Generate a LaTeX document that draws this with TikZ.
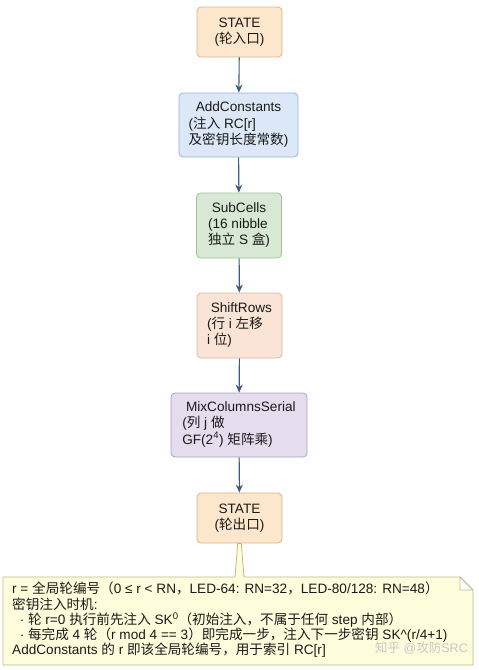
\documentclass[tikz,border=0pt]{standalone}
\usepackage{fontspec}
\setmainfont{Liberation Sans}
\newfontfamily\cjk{Noto Sans CJK SC}
\newcommand\zh[1]{{\cjk #1}}
\usetikzlibrary{arrows.meta}
\definecolor{stFill}{HTML}{FCE6CC}\definecolor{stDraw}{HTML}{D8B58E}
\definecolor{acFill}{HTML}{DCE8F8}\definecolor{acDraw}{HTML}{9DB3CF}
\definecolor{scFill}{HTML}{D7E9D4}\definecolor{scDraw}{HTML}{A3C29A}
\definecolor{srFill}{HTML}{FAE4D6}\definecolor{srDraw}{HTML}{D6B9A8}
\definecolor{mcFill}{HTML}{E5DCEE}\definecolor{mcDraw}{HTML}{ADA0BC}
\definecolor{arrCol}{HTML}{3E5C7E}
\definecolor{noteFill}{HTML}{FDFDDC}\definecolor{noteDraw}{HTML}{BDB98F}
\definecolor{txt}{HTML}{1A1A1A}
\newcommand\lbl[2]{\begin{tabular}{@{}l@{}}\multicolumn{1}{@{}c@{}}{#1}\\#2\end{tabular}}
\tikzset{
  stepbox/.style={rectangle, rounded corners=4pt, line width=0.8pt, text=txt,
    inner sep=0pt, font=\fontsize{13.6}{15.2}\selectfont},
  arr/.style={draw=arrCol, line width=1.1pt, -{Stealth[length=8pt,width=7pt,inset=2.5pt]}},
}
\begin{document}
\begin{tikzpicture}[x=1pt,y=-1pt]
\useasboundingbox (0,0) rectangle (479,670);
\node[stepbox, fill=stFill, draw=stDraw, minimum width=85pt, minimum height=50pt] (s0) at (239.5,32)
  {\lbl{STATE}{(\zh{轮入口})}};
\node[stepbox, fill=acFill, draw=acDraw, minimum width=119pt, minimum height=64pt] (ac) at (238.5,125)
  {\lbl{AddConstants}{(\zh{注入} RC[r]\\\zh{及密钥长度常数})}};
\node[stepbox, fill=scFill, draw=scDraw, minimum width=85pt, minimum height=65pt] (sc) at (239,225.5)
  {\lbl{SubCells}{(16 nibble\\\zh{独立} S \zh{盒})}};
\node[stepbox, fill=srFill, draw=srDraw, minimum width=85pt, minimum height=65pt] (sr) at (239.5,325.5)
  {\lbl{\ ShiftRows}{(\zh{行} i \zh{左移}\\i \zh{位})}};
\node[stepbox, fill=mcFill, draw=mcDraw, minimum width=136pt, minimum height=64pt] (mc) at (239,425)
  {\lbl{\ MixColumnsSerial}{(\zh{列} j \zh{做}\\GF(2\textsuperscript{4}) \zh{矩阵乘})}};
\node[stepbox, fill=stFill, draw=stDraw, minimum width=85pt, minimum height=50pt] (s1) at (239.5,518)
  {\lbl{STATE}{(\zh{轮出口})}};
\draw[arr] (s0) -- (ac);
\draw[arr] (ac) -- (sc);
\draw[arr] (sc) -- (sr);
\draw[arr] (sr) -- (mc);
\draw[arr] (mc) -- (s1);
% note with callout pointer
\draw[fill=noteFill, draw=noteDraw, line width=0.8pt, line join=round]
  (3,577) -- (235,577) -- ([xshift=-1.8pt]s1.south) -- ([xshift=1.8pt]s1.south) -- (244,577)
  -- (460,577) -- (473,590) -- (473,665) -- (3,665) -- cycle;
\draw[fill=white, draw=noteDraw, line width=0.8pt, line join=round]
  (460,577) -- (460,590) -- (473,590) -- cycle;
\node[anchor=north west, align=left, inner sep=0pt, text=txt, font=\fontsize{13.6}{15.2}\selectfont] (note) at (12,582)
  {r = \zh{全局轮编号（}0 ≤ r < RN\zh{，}LED-64: RN=32\zh{，}LED-80/128: RN=48\zh{）}\\
   \zh{密钥注入时机}:\\
   \ \ · \zh{轮} r=0 \zh{执行前先注入} SK\textsuperscript{0}\zh{（初始注入，不属于任何} step \zh{内部）}\\
   \ \ · \zh{每完成} 4 \zh{轮（}r mod 4 == 3\zh{）即完成一步，注入下一步密钥} SK\textasciicircum(r/4+1)\\
   AddConstants \zh{的} r \zh{即该全局轮编号，用于索引} RC[r]};
\node[anchor=east, inner sep=0pt, text=black!22, font=\fontsize{12.5}{14}\selectfont] (wm) at (468,648)
  {\zh{知乎} @\zh{攻防}SRC};
\end{tikzpicture}
\end{document}
